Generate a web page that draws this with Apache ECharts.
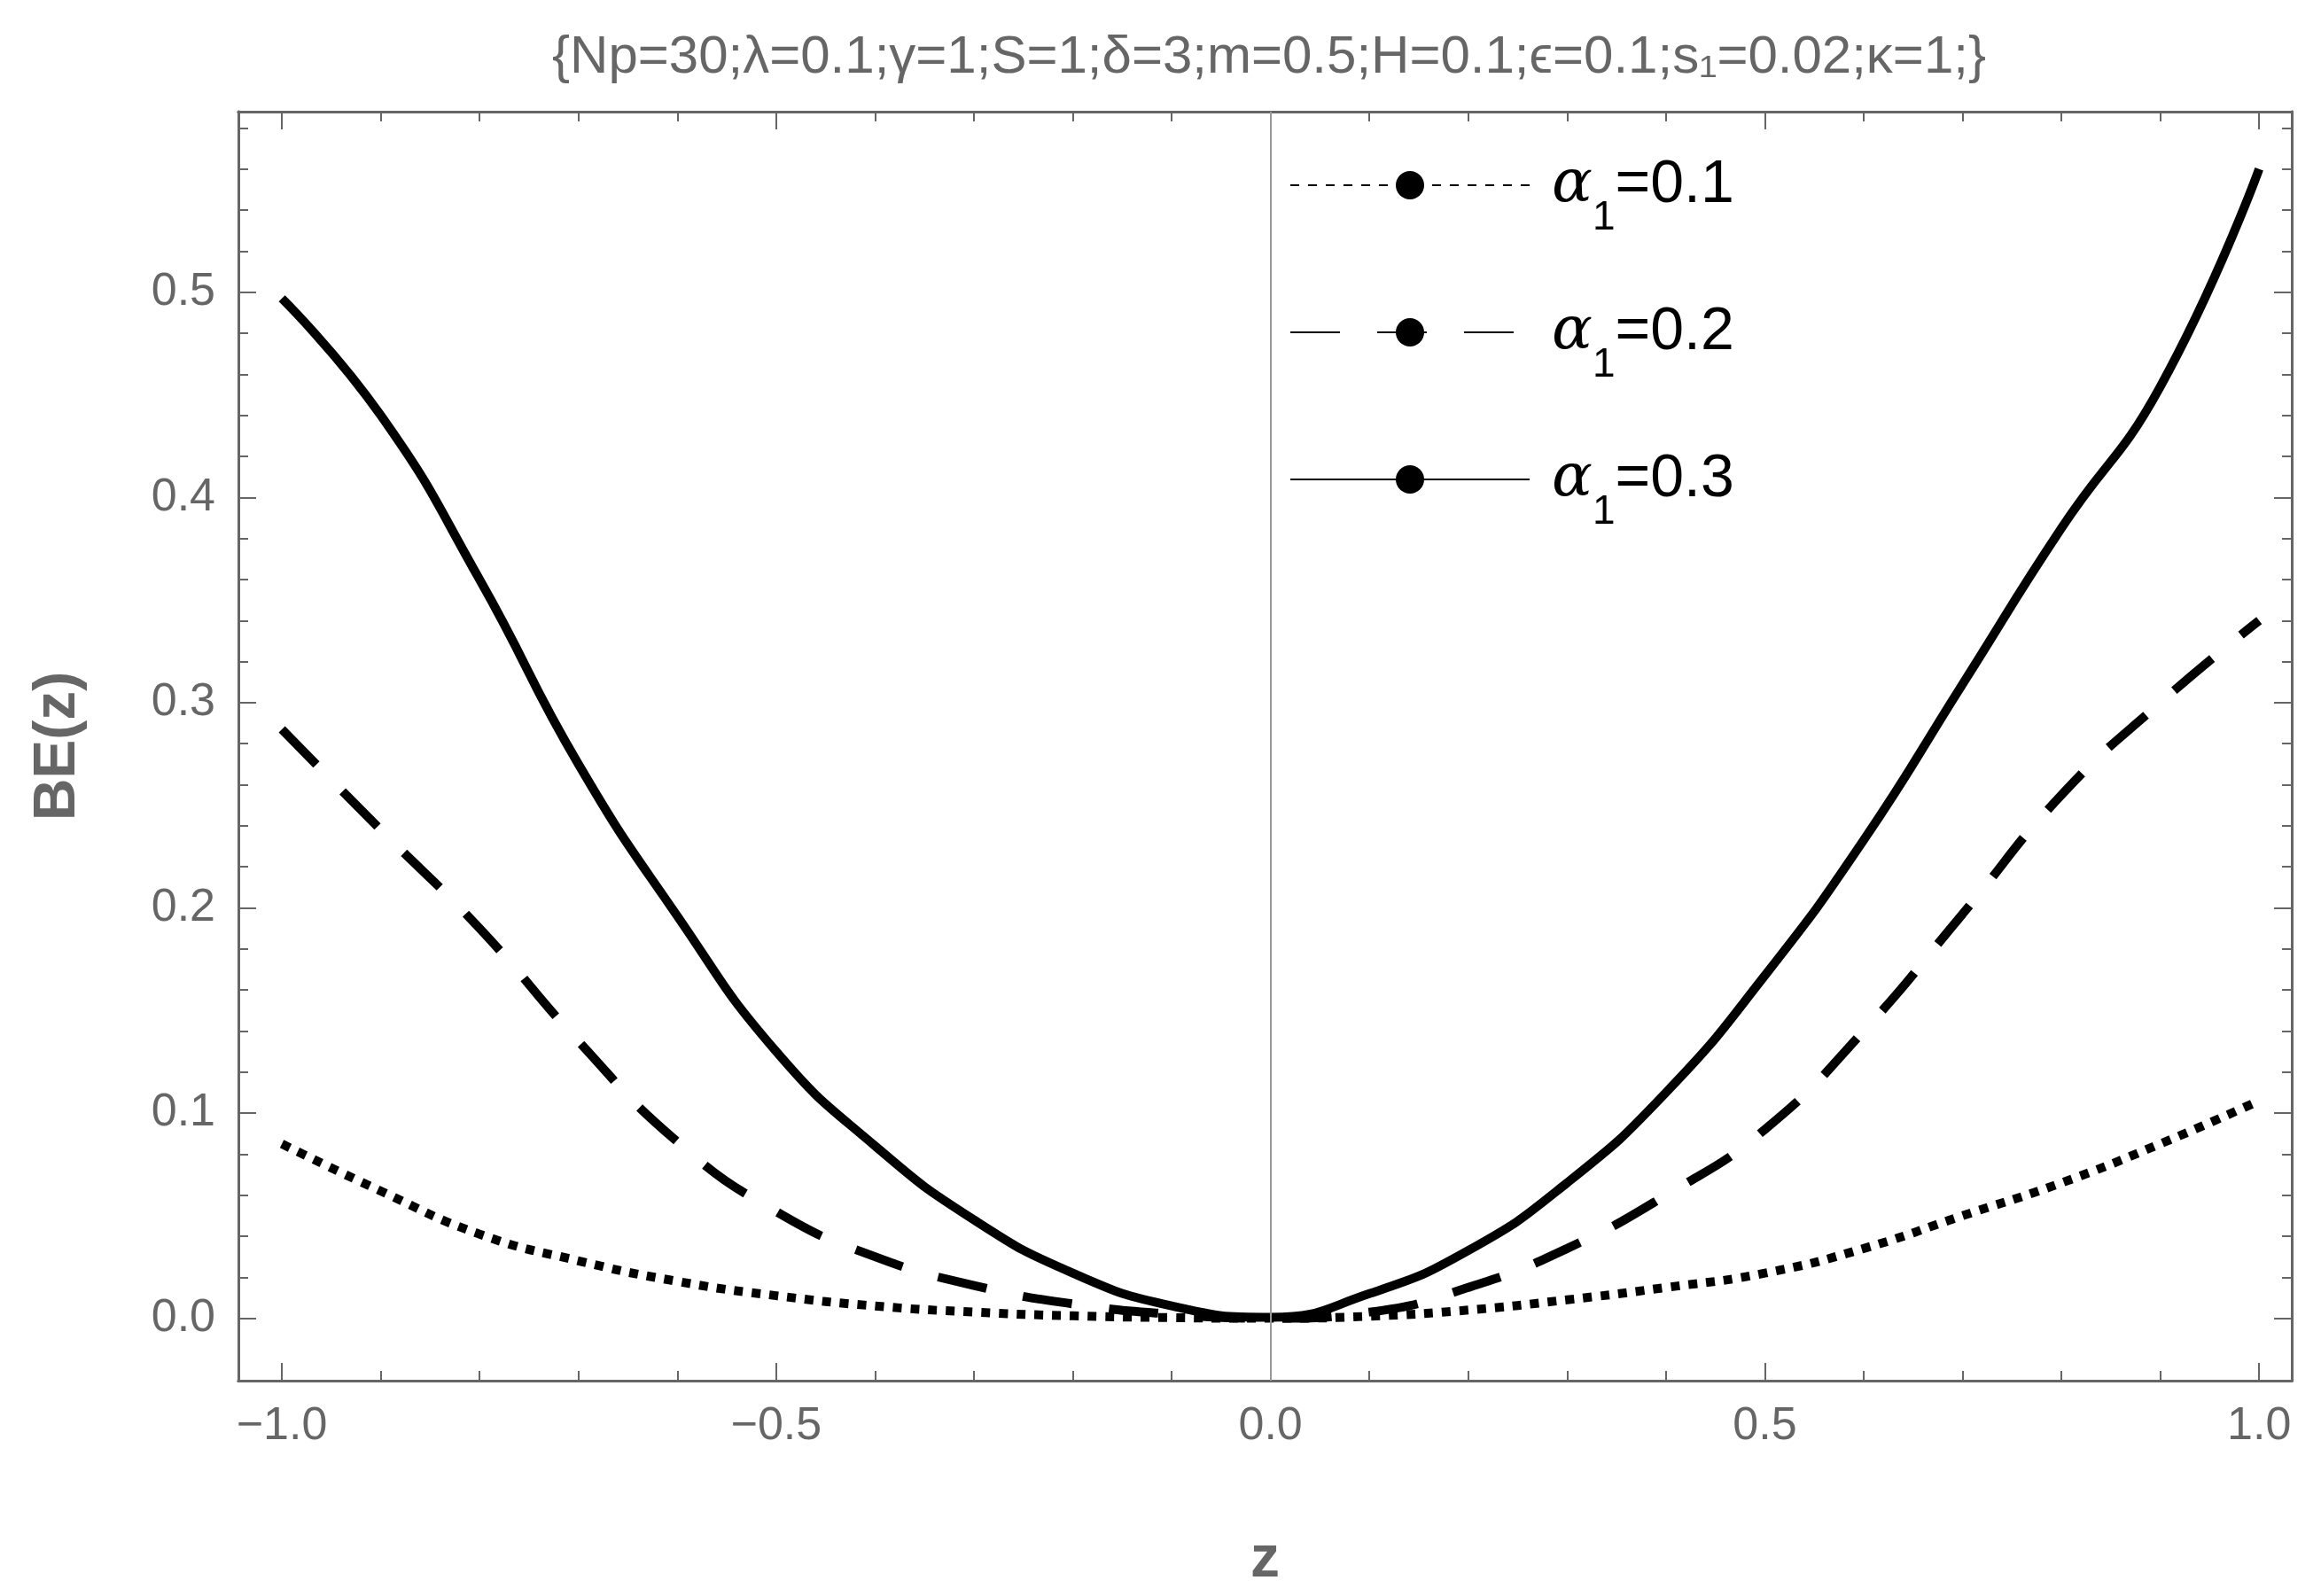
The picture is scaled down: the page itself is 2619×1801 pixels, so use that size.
<!DOCTYPE html>
<html><head><meta charset="utf-8">
<script src="https://cdn.jsdelivr.net/npm/echarts@6/dist/echarts.min.js"></script>
<style>html,body{margin:0;background:#fff}#c{width:2619px;height:1801px}</style>
</head><body><div id="c"></div>
<script>
// data
var zs = [-1,-0.9,-0.8,-0.7,-0.6,-0.5,-0.4,-0.3,-0.2,-0.1,0,0.1,0.2,0.3,0.4,0.5,0.6,0.7,0.8,0.9,1];
var be01 = [0.085,0.062,0.041,0.028,0.018,0.011,0.006,0.003,0.0012,0.0003,0,0.001,0.004,0.009,0.015,0.022,0.034,0.05,0.066,0.085,0.106];
var be02 = [0.287,0.238,0.19,0.135,0.086,0.052,0.03,0.016,0.007,0.002,0,0.003,0.015,0.034,0.06,0.092,0.14,0.197,0.255,0.3,0.34];
var be03 = [0.497,0.44,0.36,0.27,0.196,0.13,0.084,0.048,0.022,0.006,0.0005,0.012,0.033,0.066,0.11,0.167,0.233,0.309,0.385,0.454,0.56];
var xMajor = [-1,-0.5,0,0.5,1];
var xMinor = [-1,-0.9,-0.8,-0.7,-0.6,-0.5,-0.4,-0.3,-0.2,-0.1,0,0.1,0.2,0.3,0.4,0.5,0.6,0.7,0.8,0.9,1];
var yMajor = [0,0.1,0.2,0.3,0.4,0.5];
var yMinor = [0,0.02,0.04,0.06,0.08,0.1,0.12,0.14,0.16,0.18,0.2,0.22,0.24,0.26,0.28,0.3,0.32,0.34,0.36,0.38,0.4,0.42,0.44,0.46,0.48,0.5,0.52,0.54,0.56,0.58];

var gray = '#666';
var chart = echarts.init(document.getElementById('c'));
function pairs(v){ return zs.map(function(z,i){ return [z, v[i]]; }); }

// build axes: major + minor, bottom/top and left/right
function xAx(pos, vals, len, labels){
  return {type:'value', position:pos, min:-1.044, max:1.033,
    axisLine:{show:true, onZero:false, lineStyle:{color:gray, width:3}},
    axisTick:{show:true, inside:true, length:len, customValues:vals, lineStyle:{color:gray, width:2}},
    axisLabel:{show:labels, customValues:xMajor, color:gray, fontSize:52, fontFamily:'Liberation Sans', margin:26,
      formatter:function(v){ return (v<0?'\u2212':'') + Math.abs(v).toFixed(1); }},
    splitLine:{show:false}};
}
function yAx(pos, vals, len, labels){
  return {type:'value', position:pos, min:-0.0304, max:0.588,
    axisLine:{show:true, onZero:false, lineStyle:{color:gray, width:3}},
    axisTick:{show:true, inside:true, length:len, customValues:vals, lineStyle:{color:gray, width:2}},
    axisLabel:{show:labels, customValues:yMajor, color:gray, fontSize:52, fontFamily:'Liberation Sans', margin:26,
      formatter:function(v){ return v.toFixed(1); }},
    splitLine:{show:false}};
}

var xa = [xAx('bottom', xMajor, 20, true), xAx('bottom', xMinor, 11, false), xAx('top', xMajor, 20, false), xAx('top', xMinor, 11, false)];
var ya = [yAx('left', yMajor, 20, true), yAx('left', yMinor, 11, false), yAx('right', yMajor, 20, false), yAx('right', yMinor, 11, false)];
xa[0].name = 'z'; xa[0].nameLocation = 'middle'; xa[0].nameGap = 170;
xa[0].nameTextStyle = {color:gray, fontSize:66, fontWeight:'bold', fontFamily:'Liberation Sans'};
ya[0].name = 'BE(z)'; ya[0].nameLocation = 'middle'; ya[0].nameGap = 170;
ya[0].nameTextStyle = {color:gray, fontSize:66, fontWeight:'bold', fontFamily:'Liberation Sans'};

var rich = {a:{fontSize:68, fontFamily:'DejaVu Serif', fontStyle:'italic', color:'#000'},
  s:{fontSize:46, color:'#000', fontFamily:'Liberation Sans', verticalAlign:'bottom', padding:[0,0,-26,0]},
  b:{fontSize:68, color:'#000', fontFamily:'Liberation Sans'}};

var option = {
  backgroundColor:'#fff',
  animation:false,
  title:{text:'{Np=30;\u03BB=0.1;\u03B3=1;S=1;\u03B4=3;m=0.5;H=0.1;\u03F5=0.1;s\u2081=0.02;\u03BA=1;}',
    left:1427, textAlign:'center', top:30, textStyle:{color:gray, fontSize:60, fontWeight:'normal', fontFamily:'Liberation Sans'}},
  grid:{left:269, right:33, top:126, bottom:243},
  xAxis:xa, yAxis:ya,
  legend:{orient:'vertical', left:1450, top:170, itemWidth:270, itemHeight:40, itemGap:72,
    data:['α1=0.1','α1=0.2','α1=0.3'],
    formatter:function(n){ return '{a|\u03B1}{s|1}{b|=' + n.split('=')[1] + '}'; },
    textStyle:{rich:rich, padding:[0,0,0,20]}},
  series:[
    {name:'α1=0.1', type:'line', smooth:true, symbol:'none', data:pairs(be01),
      lineStyle:{color:'#000', width:10, type:[10,10]}, itemStyle:{color:'#000'},
      markLine:{silent:true, symbol:'none', label:{show:false}, lineStyle:{color:'#999', width:2, type:'solid'}, data:[{xAxis:0}]}},
    {name:'α1=0.2', type:'line', smooth:true, symbol:'none', data:pairs(be02),
      lineStyle:{color:'#000', width:10, type:[56,42]}, itemStyle:{color:'#000'}},
    {name:'α1=0.3', type:'line', smooth:true, symbol:'none', data:pairs(be03),
      lineStyle:{color:'#000', width:10, type:'solid'}, itemStyle:{color:'#000'}}
  ]
};
chart.setOption(option);
</script></body></html>
